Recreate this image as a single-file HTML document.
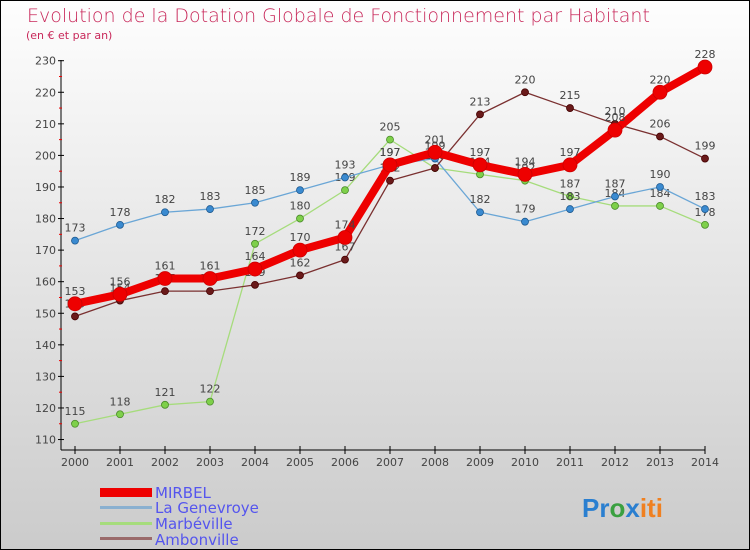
<!DOCTYPE html>
<html><head><meta charset="utf-8"><style>
body{margin:0;width:750px;height:550px;overflow:hidden}
svg{display:block;font-family:"DejaVu Sans","Liberation Sans",sans-serif}
</style></head><body>
<svg width="750" height="550" viewBox="0 0 750 550">
<defs><linearGradient id="bg" x1="0" y1="0" x2="0" y2="1"><stop offset="0" stop-color="#fefefe"/><stop offset="1" stop-color="#cbcbcb"/></linearGradient></defs>
<rect x="0.5" y="0.5" width="749" height="549" fill="url(#bg)" stroke="#000"/>
<text x="27" y="22" font-size="19" fill="#c8285a" font-weight="200">Evolution de la Dotation Globale de Fonctionnement par Habitant</text>
<text x="26" y="39" font-size="11" fill="#c8285a">(en € et par an)</text>
<g id="axes"></g>
<g id="series"></g>
<g id="legend" font-size="15" fill="#5555ee">
<rect x="100" y="488" width="52" height="9" fill="#e00"/>
<text x="155" y="498" fill="#5555ee">MIRBEL</text>
<rect x="100" y="506" width="52" height="3" fill="#8ab0d0"/>
<text x="155" y="513" fill="#5555ee">La Genevroye</text>
<rect x="100" y="522" width="52" height="3" fill="#a6dc7c"/>
<text x="155" y="529" fill="#5555ee">Marbéville</text>
<rect x="100" y="537" width="52" height="3" fill="#9a6a6a"/>
<text x="155" y="545" fill="#5555ee">Ambonville</text>
</g>
<text x="582" y="517" font-size="26" font-weight="bold" font-family="Liberation Sans,sans-serif"><tspan fill="#2a7fd0">Pr</tspan><tspan fill="#3aa040">o</tspan><tspan fill="#2a7fd0">x</tspan><tspan fill="#f08020">iti</tspan></text>
</svg>
<script>
const years=[2000,2001,2002,2003,2004,2005,2006,2007,2008,2009,2010,2011,2012,2013,2014];
const yTicks=[110,120,130,140,150,160,170,180,190,200,210,220,230];
const mirbel=[153,156,161,161,164,170,174,197,201,197,194,197,208,220,228];
const genevroye=[173,178,182,183,185,189,193,197,199,182,179,183,187,190,183];
const marbeville=[115,118,121,122,172,180,189,205,196,194,192,187,184,184,178];
const ambonville=[149,154,157,157,159,162,167,192,196,213,220,215,210,206,199];
const NS="http://www.w3.org/2000/svg";
const X=i=>75+i*(630/(years.length-1));
const Y=v=>60.7+(230-v)*3.157;
function mk(tag,attrs,parent){const e=document.createElementNS(NS,tag);for(const k in attrs)e.setAttribute(k,attrs[k]);parent.appendChild(e);return e;}
const ax=document.getElementById('axes');
let l=mk('line',{x1:61,y1:60,x2:61,y2:450,stroke:'#000'},ax);


l=mk('line',{x1:61,y1:450,x2:705,y2:450,stroke:'#000'},ax);


yTicks.forEach((v,i)=>{
 const y=Y(v);
 mk('line',{x1:58,y1:y,x2:64,y2:y,stroke:'#000'},ax);
 if(i<yTicks.length-1) mk('line',{x1:59,y1:Y(v+5),x2:62,y2:Y(v+5),stroke:'#e00'},ax);
 const t=mk('text',{x:56,y:y+4,'font-size':11,fill:'#444','text-anchor':'end'},ax);
 t.textContent=v;
 
 
});
years.forEach((yr,i)=>{
 const x=X(i);
 mk('line',{x1:x,y1:446,x2:x,y2:454,stroke:'#000'},ax);
 const t=mk('text',{x:x,y:466,'font-size':11,fill:'#444','text-anchor':'middle'},ax);
 t.textContent=yr;
 
 
});
const sg=document.getElementById('series');
function draw(data,name,color,w,r,fill,ptStroke){
 const g=mk('g',{},sg);
 
 
 const p=mk('polyline',{points:data.map((v,i)=>X(i)+','+Y(v)).join(' '),fill:'none',stroke:color,'stroke-width':w,'stroke-linejoin':'round'},g);
 
 
 data.forEach((v,i)=>{
  const c=mk('circle',{cx:X(i),cy:Y(v),r:r,fill:fill,stroke:ptStroke,'stroke-width':0.8},g);
  
  
  const t=mk('text',{x:X(i),y:Y(v)-9,'font-size':11,fill:'#444','text-anchor':'middle'},g);
  t.textContent=v;
  
  
 });
}
draw(marbeville,'marbeville','#a6dc7c',1.3,3.5,'#7ed04a','#4a8a2a');
draw(genevroye,'la-genevroye','#6aa6d6',1.3,3.5,'#3a8ad0','#1f5a90');
draw(ambonville,'ambonville','#7a3030',1.3,3.5,'#6a1a1a','#400');
draw(mirbel,'mirbel','#ee0000',8,7,'#ee0000','#cc0000');
</script>
</body></html>
